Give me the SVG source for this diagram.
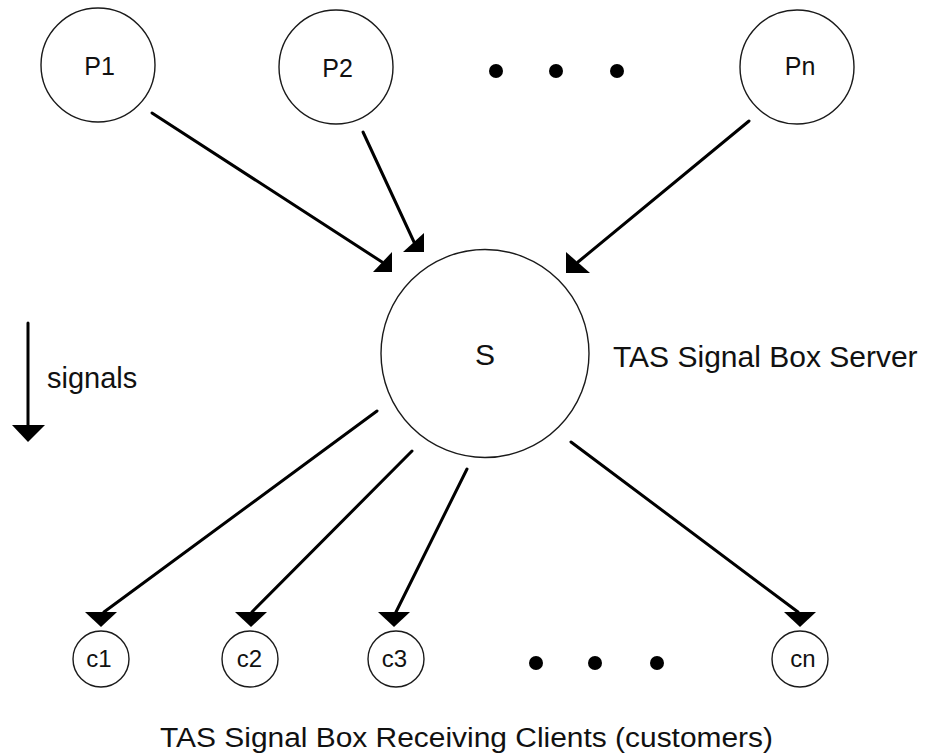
<svg xmlns="http://www.w3.org/2000/svg" width="926" height="756" viewBox="0 0 926 756">
<style>
.node{fill:#fff;stroke:#1a1a1a;stroke-width:1.4}
.lbl{font-family:"Liberation Sans",Arial,sans-serif;fill:#111;text-anchor:middle}
.txt{font-family:"Liberation Sans",Arial,sans-serif;fill:#111}
.edge{stroke:#000;stroke-width:3;fill:none;stroke-linecap:round}
.head{fill:#000}
.dot{fill:#000}
</style>
<rect width="926" height="756" fill="#fff"/>
<g id="P1"><circle class="node" cx="98" cy="65" r="57"/><text class="lbl" x="99.5" y="75" font-size="25">P1</text></g>
<g id="P2"><circle class="node" cx="336" cy="67" r="57"/><text class="lbl" x="337.5" y="77" font-size="25">P2</text></g>
<g id="Pn"><circle class="node" cx="797" cy="67" r="57"/><text class="lbl" x="800" y="75" font-size="25">Pn</text></g>
<g id="dots-top"><circle class="dot" cx="496" cy="71" r="7"/><circle class="dot" cx="556" cy="71" r="7"/><circle class="dot" cx="617" cy="71" r="7"/></g>
<g id="S"><circle class="node" cx="485" cy="353.5" r="104"/><text class="lbl" x="485" y="365" font-size="30">S</text></g>
<text id="server-label" class="txt" x="613" y="367" font-size="30">TAS Signal Box Server</text>
<g id="c1"><circle class="node" cx="101" cy="659" r="28"/><text class="lbl" x="99" y="667" font-size="24">c1</text></g>
<g id="c2"><circle class="node" cx="250" cy="659" r="28"/><text class="lbl" x="249.5" y="667" font-size="24">c2</text></g>
<g id="c3"><circle class="node" cx="396" cy="659" r="28"/><text class="lbl" x="394.5" y="667" font-size="24">c3</text></g>
<g id="cn"><circle class="node" cx="800" cy="659" r="28"/><text class="lbl" x="803" y="667" font-size="24">cn</text></g>
<g id="dots-bottom"><circle class="dot" cx="536" cy="663" r="7"/><circle class="dot" cx="595" cy="663" r="7"/><circle class="dot" cx="657" cy="663" r="7"/></g>
<text id="clients-label" class="txt" x="160" y="747" font-size="27" textLength="613" lengthAdjust="spacingAndGlyphs">TAS Signal Box Receiving Clients (customers)</text>
<g id="legend">
<line class="edge" x1="28" y1="323" x2="28" y2="427"/>
<polygon class="head" points="12,425 45,425 28,442"/>
<text class="txt" x="47" y="388" font-size="29">signals</text>
</g>
<g id="connectors">
<line class="edge" x1="152" y1="113" x2="382" y2="262"/>
<polygon class="head" points="392,252 392,272 373,272"/>
<line class="edge" x1="363" y1="132" x2="414" y2="242"/>
<polygon class="head" points="424,233 424,252 403,252"/>
<line class="edge" x1="749" y1="121" x2="578" y2="262"/>
<polygon class="head" points="566,252 566,273 590,273"/>
<line class="edge" x1="377" y1="411" x2="104" y2="612"/>
<polygon class="head" points="85,612 117,612 101,627"/>
<line class="edge" x1="412" y1="451" x2="252" y2="612"/>
<polygon class="head" points="235,612 267,612 251,627"/>
<line class="edge" x1="467" y1="469" x2="396" y2="612"/>
<polygon class="head" points="378,612 410,612 394,627"/>
<line class="edge" x1="571" y1="442" x2="798" y2="612"/>
<polygon class="head" points="784,612 816,612 800,627"/>
</g>
</svg>
